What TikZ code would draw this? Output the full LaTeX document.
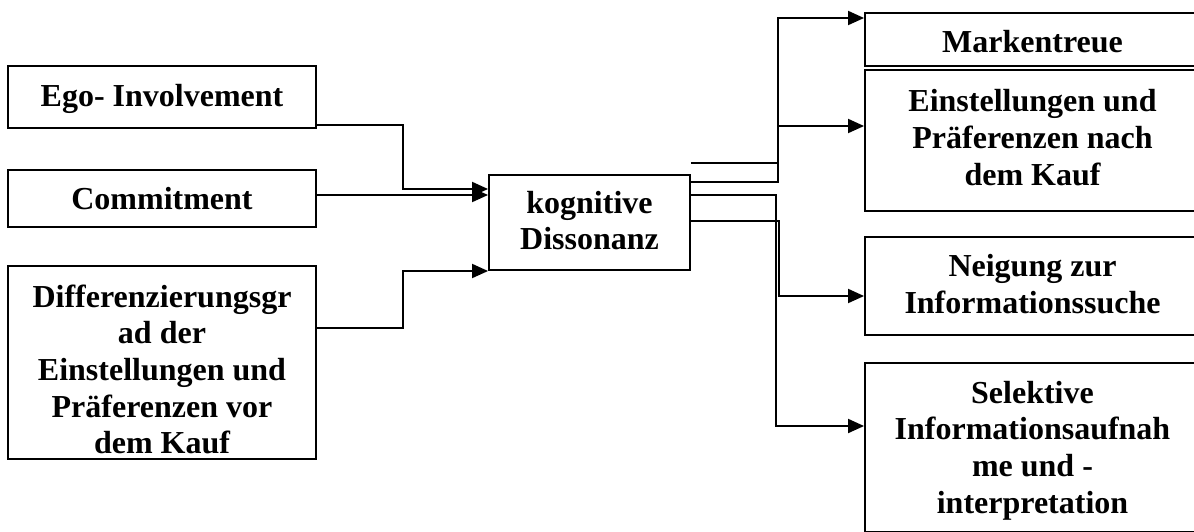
\documentclass[tikz,border=0pt]{standalone}
\usepackage{fontspec}
\setmainfont{Liberation Serif}
\usetikzlibrary{arrows.meta}
\begin{document}
\begin{tikzpicture}[x=1pt,y=-1pt,
  frame/.style={draw,line width=1.9pt,rectangle,inner sep=0pt},
  txt/.style={inner sep=0pt,align=center,
    font=\bfseries\fontsize{32}{36.7}\selectfont},
  link/.style={line width=1.9pt},
  arr/.style={link,-{Triangle[length=16pt,width=14pt]}}]
\useasboundingbox (0,0) rectangle (1194,531);
\clip (0,0) rectangle (1194,531);

% influencing factors
\node[frame,minimum width=308pt,minimum height=62pt] (ego) at (162,97) {};
\node[txt,yshift=-2pt] (ego-t) at (ego) {Ego- Involvement};
\node[frame,minimum width=308pt,minimum height=57pt] (com) at (162,198.5) {};
\node[txt] (com-t) at (com) {Commitment};
\node[frame,minimum width=308pt,minimum height=193pt] (diff) at (162,362.5) {};
\node[txt,yshift=-7pt] (diff-t) at (diff)
  {Differenzierungsgr\\ad der\\Einstellungen und\\Präferenzen vor\\dem Kauf};

% central state
\node[frame,minimum width=201pt,minimum height=95pt] (cd) at (589.5,222.5) {};
\node[txt,yshift=2pt] (cd-t) at (cd) {kognitive\\Dissonanz};

% consequences
\node[frame,minimum width=335pt,minimum height=53pt] (mt) at (1032.5,39.5) {};
\node[txt,yshift=-2pt] (mt-t) at (mt) {Markentreue};
\node[frame,minimum width=335pt,minimum height=141pt] (ein) at (1032.5,140.5) {};
\node[txt,yshift=3pt] (ein-t) at (ein) {Einstellungen und\\Präferenzen nach\\dem Kauf};
\node[frame,minimum width=335pt,minimum height=98pt] (nei) at (1032.5,286) {};
\node[txt,yshift=2pt] (nei-t) at (nei) {Neigung zur\\Informationssuche};
\node[frame,minimum width=335pt,minimum height=169pt] (sel) at (1032.5,447.5) {};
\node[txt,yshift=-3pt] (sel-t) at (sel)
  {Selektive\\Informationsaufnah\\me und -\\interpretation};

% inputs
\draw[arr] (ego.east |- 0,125) -- (403,125) -- (403,189) -- (cd.west |- 0,189);
\draw[arr] (com.east |- 0,195) -- (cd.west |- 0,195);
\draw[arr] (diff.east |- 0,328) -- (403,328) -- (403,271) -- (cd.west |- 0,271);

% outputs
\draw[link] (cd.east |- 0,163) -- (778,163);
\draw[arr] (cd.east |- 0,182) -- (778,182) -- (778,18) -- (mt.west |- 0,18);
\draw[arr] (778,126) -- (ein.west |- 0,126);
\draw[arr] (cd.east |- 0,195) -- (776,195) -- (776,426) -- (sel.west |- 0,426);
\draw[arr] (cd.east |- 0,221) -- (779,221) -- (779,296) -- (nei.west |- 0,296);
\end{tikzpicture}
\end{document}
